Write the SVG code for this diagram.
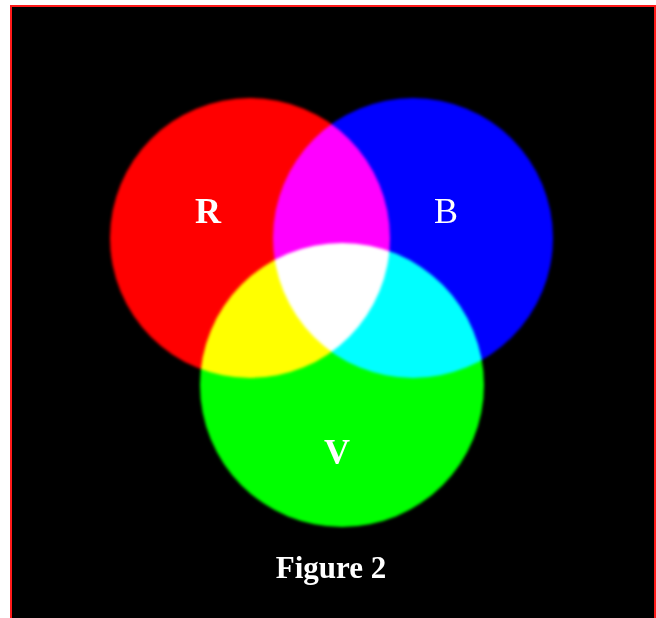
<svg xmlns="http://www.w3.org/2000/svg" width="656" height="618" viewBox="0 0 656 618">
  <defs>
    <filter id="soft" x="-10%" y="-10%" width="120%" height="120%">
      <feGaussianBlur stdDeviation="1.4"/>
    </filter>
    <style>
      .light { mix-blend-mode: screen; filter: url(#soft); }
      .lbl { font-family: "Liberation Serif", "Times New Roman", serif; font-size: 36px; fill: #ffffff; text-anchor: middle; }
      .bold { font-weight: bold; }
    </style>
  </defs>
  <rect x="0" y="0" width="656" height="618" fill="#ffffff"/>
  <rect x="11" y="6" width="644" height="620" fill="#000000" stroke="#ff1a1a" stroke-width="2"/>
  <g id="red">
    <circle class="light" cx="250" cy="238" r="140" fill="#ff0000"/>
  </g>
  <g id="blue">
    <circle class="light" cx="413" cy="238" r="140" fill="#0000ff"/>
  </g>
  <g id="green">
    <circle class="light" cx="342" cy="385" r="142" fill="#00ff00"/>
  </g>
  <g id="labels">
    <text class="lbl bold" x="208" y="223">R</text>
    <text class="lbl" x="446" y="223">B</text>
    <text class="lbl bold" x="337" y="464">V</text>
  </g>
  <g id="caption">
    <text class="lbl bold" x="331" y="578" style="font-size:31px">Figure 2</text>
  </g>
</svg>
